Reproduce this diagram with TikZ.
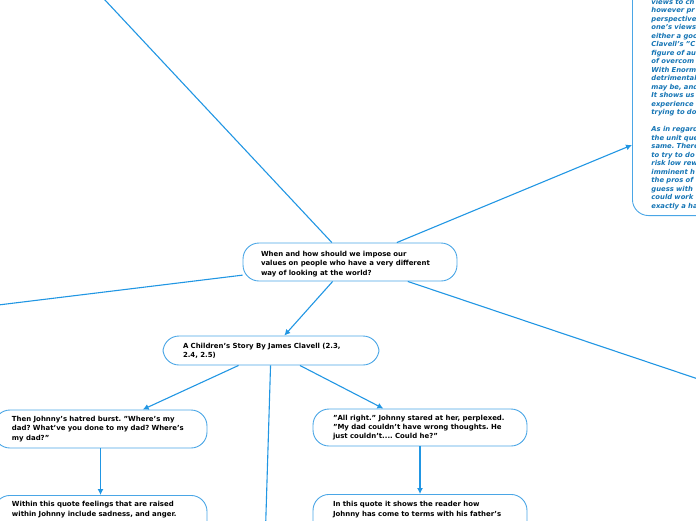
\documentclass[tikz,border=0pt]{standalone}
\usepackage{fontspec}
\setmainfont{DejaVu Sans}
\frenchspacing
\usetikzlibrary{arrows.meta,calc}
\definecolor{linec}{HTML}{2196E3}
\definecolor{boxc}{HTML}{4AA6E6}
\definecolor{rtext}{HTML}{1575B5}
\tikzset{
  topic/.style={draw=boxc, line width=0.9pt, fill=white, rounded corners=16pt,
    align=left, font=\fontsize{6.95}{9.3}\selectfont\bfseries, inner xsep=0pt, inner ysep=0pt,
    anchor=center},
  conn/.style={draw=linec, line width=1.1pt},
  arr/.style={conn, -{Latex[length=6pt,width=6pt]}},
}
\begin{document}
\begin{tikzpicture}[x=1pt,y=-1pt]
\useasboundingbox (0,0) rectangle (696,520);

% main topic
\node[topic, minimum width=214pt, minimum height=38pt, text width=178pt] (c) at (350,262)
  {\rule{0pt}{9pt}When and how should we impose our\\values on people who have a very different\\way of looking at the world?};

% right big box (partly outside)
\node[draw=boxc, line width=0.9pt, fill=white, rounded corners=16pt, anchor=south west,
  align=left, text width=140pt, inner xsep=19pt, inner ysep=6pt, text=rtext,
  font=\fontsize{6.8}{8.5}\selectfont\bfseries\itshape] (rb) at (632,216)
  {\rule{0pt}{40pt}views to ch\\however pr\\perspective\\one's views\\either a goo\\Clavell's "C\\figure of au\\of overcom\\With Enorm\\detrimental\\may be, and\\It shows us\\experience\\trying to do\\[8.5pt]As in regard\\the unit que\\same. There\\to try to do\\risk low rew\\imminent h\\the pros of\\guess with\\could work\\exactly a ha};

% children
\node[topic, minimum width=216pt, minimum height=29pt, text width=176pt] (a) at (271,350.5)
  {A Children's Story By James Clavell (2.3,\\2.4, 2.5)};
\node[topic, minimum width=213pt, minimum height=38pt, text width=177pt] (l) at (100.5,429)
  {Then Johnny's hatred burst. "Where's my\\dad? What've you done to my dad? Where's\\my dad?"};
\node[topic, minimum width=214pt, minimum height=37pt, text width=174pt] (r) at (420,427.5)
  {"All right." Johnny stared at her, perplexed.\\"My dad couldn't have wrong thoughts. He\\just couldn't.... Could he?"};
\node[topic, anchor=north, minimum width=213pt, text width=177pt, inner ysep=0pt] (bl) at (100.5,495)
  {\rule{0pt}{11.5pt}Within this quote feelings that are raised\\within Johnny include sadness, and anger.\rule[-30pt]{0pt}{1pt}};
\node[topic, anchor=north, minimum width=214pt, text width=174pt, inner ysep=0pt] (br) at (420,494)
  {\rule{0pt}{12.5pt}In this quote it shows the reader how\\Johnny has come to terms with his father's\rule[-30pt]{0pt}{1pt}};

% free ends
\coordinate (t) at (90,-16);
\coordinate (w) at (-10,306);
\coordinate (e) at (710,383);
\coordinate (d) at (265.5,530);
\coordinate (rbin) at ($(rb.south west)+(0,-71)$);

% connectors
\draw[conn] (c) -- (t);
\draw[conn] (c) -- (w);
\draw[conn] (c) -- (e);
\draw[arr] (c) -- (rbin);
\draw[arr] (c) -- (a);
\draw[arr] (a) -- (l);
\draw[arr] (a) -- (r);
\draw[conn] (a) -- (d);
\draw[arr] (l.south) -- (bl.north);
\draw[arr] (r.south) -- (br.north);
\end{tikzpicture}
\end{document}
